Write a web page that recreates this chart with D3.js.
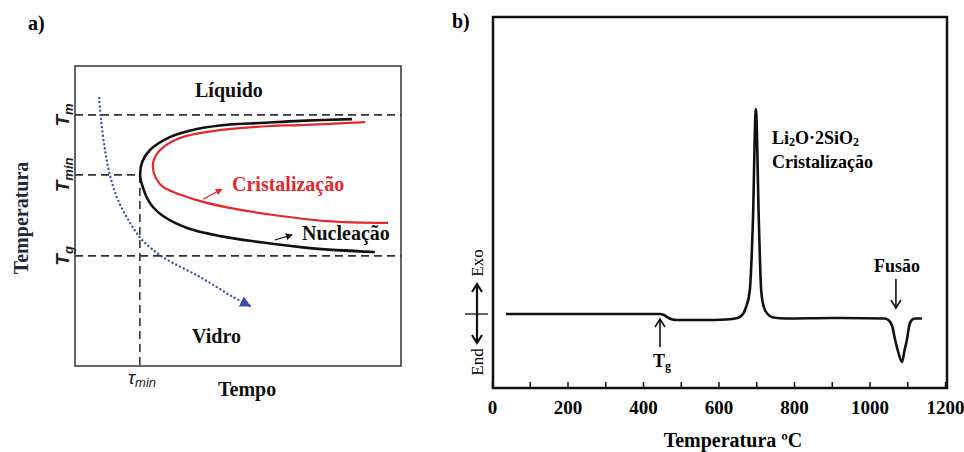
<!DOCTYPE html>
<html>
<head>
<meta charset="utf-8">
<script src="https://cdn.jsdelivr.net/npm/d3@7"></script>
<style>
  body { margin: 0; background: #fff; }
  svg { display: block; }
</style>
</head>
<body>
<div id="chart"></div>
<script>
// ---- panel a: TTT diagram, arbitrary units (tempo 0-10, temperatura 0-10)
const nucleationCurve = [
    [8.50, 8.23], [6.90, 8.17], [5.67, 8.10], [4.75, 8.05], [3.74, 7.90], [2.91, 7.63],
    [2.30, 7.20], [2.06, 6.80], [2.00, 6.33], [2.09, 5.93], [2.21, 5.60], [2.39, 5.30],
    [2.70, 5.00], [3.44, 4.60], [4.45, 4.33], [5.67, 4.13], [7.21, 3.93], [9.20, 3.80]
];
const crystalCurve = [
    [8.90, 8.13], [6.90, 8.03], [5.98, 8.00], [4.23, 7.83], [3.22, 7.60], [2.61, 7.20],
    [2.42, 6.87], [2.39, 6.60], [2.48, 6.27], [2.70, 5.97], [3.74, 5.53], [4.75, 5.27],
    [5.98, 5.05], [7.73, 4.83], [9.60, 4.77]
];
const coolingPath = [
    [0.74, 8.93], [0.80, 8.20], [0.92, 7.20], [1.07, 6.37], [1.32, 5.53], [1.69, 4.77],
    [2.06, 4.20], [2.70, 3.63], [3.83, 2.97], [4.85, 2.30], [5.37, 2.00]
];
const tempM = 8.37, tempMin = 6.37, tempG = 3.67;
const tauMin = 1.99;

// ---- panel b: DSC Li2O·2SiO2
const dscTemp = [
    37, 200, 445, 452, 460, 468, 478, 490, 560, 620, 650, 665, 673, 683, 691, 699,
    707, 713, 720, 730, 745, 780, 900, 1040, 1050, 1060, 1068, 1076, 1086, 1093,
    1099, 1105, 1112, 1120, 1139
];
const dscSignal = [
    0, 0, 0, -0.05, -0.2, -0.4, -0.55, -0.6, -0.6, -0.55, -0.4, 0, 0.7, 2.4, 9.1, 20.5,
    9.1, 2.4, 0.7, 0, -0.35, -0.45, -0.4, -0.45, -0.6, -1.2, -2.6, -3.8, -4.8, -3.6,
    -2.6, -1.2, -0.6, -0.45, -0.45
];
const xTicks = [0, 100, 200, 300, 400, 500, 600, 700, 800, 900, 1000, 1100, 1200];
const xLabels = [0, 200, 400, 600, 800, 1000, 1200];
const tgTemp = 445, fusionTemp = 1070;

const serif = "'Liberation Serif', 'Times New Roman', serif";
const sans = "'Liberation Sans', Arial, sans-serif";
const red = "#e5262b", blue = "#3a4fa6";

const svg = d3.select("#chart")
    .append("svg")
    .attr("width", 964)
    .attr("height", 452)
    .style("font-family", serif);

const defs = svg.append("defs");
defs.append("marker")
    .attr("id", "blueHead")
    .attr("viewBox", "0 0 10 10")
    .attr("refX", 9).attr("refY", 5)
    .attr("markerUnits", "userSpaceOnUse")
    .attr("markerWidth", 11).attr("markerHeight", 11)
    .attr("orient", "auto")
    .append("path").attr("d", "M0,0L10,5L0,10Z").attr("fill", blue);
[["redHead", red], ["blackHead", "#111"]].forEach(([id, c]) => {
    defs.append("marker")
        .attr("id", id)
        .attr("viewBox", "0 0 10 10")
        .attr("refX", 9).attr("refY", 5)
        .attr("markerUnits", "userSpaceOnUse")
        .attr("markerWidth", 7).attr("markerHeight", 7)
        .attr("orient", "auto")
        .append("path").attr("d", "M0,0L10,5L0,10Z").attr("fill", c);
});

// ================= panel a =================
const xa = d3.scaleLinear().domain([0, 10]).range([75, 401]);
const ya = d3.scaleLinear().domain([0, 10]).range([366, 66]);
const ga = svg.append("g");

ga.append("text").attr("x", 28).attr("y", 30)
    .attr("font-size", 20).attr("font-weight", "bold").text("a)");

ga.append("rect")
    .attr("x", xa(0)).attr("y", ya(10))
    .attr("width", xa(10) - xa(0)).attr("height", ya(0) - ya(10))
    .attr("fill", "none").attr("stroke", "#333").attr("stroke-width", 1.5);

const dashed = (x1, y1, x2, y2) => ga.append("line")
    .attr("x1", xa(x1)).attr("y1", ya(y1)).attr("x2", xa(x2)).attr("y2", ya(y2))
    .attr("stroke", "#333").attr("stroke-width", 1.6).attr("stroke-dasharray", "8,5");
dashed(0, tempM, 10, tempM);
dashed(0, tempMin, tauMin, tempMin);
dashed(tauMin, tempMin, tauMin, 0);
dashed(0, tempG, 10, tempG);

const lineA = d3.line()
    .x(d => xa(d[0]))
    .y(d => ya(d[1]))
    .curve(d3.curveCatmullRom.alpha(0.5));

ga.append("path").attr("d", lineA(nucleationCurve))
    .attr("fill", "none").attr("stroke", "#111").attr("stroke-width", 2.6);
ga.append("path").attr("d", lineA(crystalCurve))
    .attr("fill", "none").attr("stroke", red).attr("stroke-width", 2.2);
ga.append("path").attr("d", lineA(coolingPath))
    .attr("fill", "none").attr("stroke", blue).attr("stroke-width", 2.4)
    .attr("stroke-linecap", "round").attr("stroke-dasharray", "0,4.2")
    .attr("marker-end", "url(#blueHead)");

// little pointer arrows
ga.append("line")
    .attr("x1", xa(3.93)).attr("y1", ya(5.56)).attr("x2", xa(4.51)).attr("y2", ya(5.90))
    .attr("stroke", red).attr("stroke-width", 1.2).attr("marker-end", "url(#redHead)");
ga.append("line")
    .attr("x1", xa(6.13)).attr("y1", ya(4.20)).attr("x2", xa(6.66)).attr("y2", ya(4.37))
    .attr("stroke", "#111").attr("stroke-width", 1.2).attr("marker-end", "url(#blackHead)");

const boldText = (x, y, s, color) => ga.append("text")
    .attr("x", x).attr("y", y).attr("font-size", 20).attr("font-weight", "bold")
    .attr("fill", color || "#111").text(s);
boldText(195, 97, "Líquido");
boldText(232, 191, "Cristalização", red);
boldText(302, 240, "Nucleação");
boldText(192, 343, "Vidro");
boldText(218, 396, "Tempo");

ga.append("text")
    .attr("transform", "translate(28,218) rotate(-90)")
    .attr("text-anchor", "middle")
    .attr("font-size", 20).attr("font-weight", "bold").attr("fill", "#1c2841")
    .text("Temperatura");

// rotated T labels on the left of the frame
[[tempM, "m"], [tempMin, "min"], [tempG, "g"]].forEach(([v, sub]) => {
    const t = ga.append("text")
        .attr("transform", `translate(69,${ya(v)}) rotate(-90)`)
        .attr("text-anchor", "middle")
        .attr("font-family", sans).attr("font-style", "italic").attr("font-weight", "bold")
        .attr("font-size", 19).attr("fill", "#222");
    t.append("tspan").text("T");
    t.append("tspan").attr("font-size", 13).attr("dy", 4).text(sub);
});

const tau = ga.append("text")
    .attr("x", 128).attr("y", 384)
    .attr("font-family", sans).attr("font-style", "italic").attr("fill", "#222");
tau.append("tspan").attr("font-size", 19).text("τ");
tau.append("tspan").attr("font-size", 13).attr("dy", 3).text("min");

// ================= panel b =================
const xb = d3.scaleLinear().domain([0, 1200]).range([492, 945]);
const yb = d3.scaleLinear().domain([-7.4, 29.7]).range([388, 17]);
const gb = svg.append("g");

gb.append("text").attr("x", 452).attr("y", 28)
    .attr("font-size", 20).attr("font-weight", "bold").text("b)");

gb.append("g")
    .attr("transform", `translate(0,${yb(-7.4)})`)
    .call(d3.axisBottom(xb).tickValues(xTicks).tickSizeInner(-6).tickSizeOuter(0).tickPadding(13)
        .tickFormat(d => xLabels.includes(d) ? d : ""))
    .call(g => g.select(".domain").remove())
    .call(g => g.selectAll("line").attr("stroke", "#111").attr("stroke-width", 1.5))
    .attr("font-family", serif).attr("font-size", 19).attr("font-weight", "bold");

gb.append("rect")
    .attr("x", 493).attr("y", yb(29.7))
    .attr("width", 947 - 493).attr("height", yb(-7.4) - yb(29.7))
    .attr("fill", "none").attr("stroke", "#111").attr("stroke-width", 2.5);

const lineB = d3.line()
    .x((d, i) => xb(dscTemp[i]))
    .y(d => yb(d))
    .curve(d3.curveMonotoneX);
gb.append("path").attr("d", lineB(dscSignal))
    .attr("fill", "none").attr("stroke", "#111").attr("stroke-width", 2.6)
    .attr("stroke-linejoin", "round");

// arrows: shaft + chevron head
const arrow = (x, yFrom, yTo, w, sw) => {
    const dir = yTo < yFrom ? 1 : -1;
    gb.append("path")
        .attr("d", `M${x},${yFrom}L${x},${yTo}M${x - w},${yTo + dir * w * 1.6}L${x},${yTo}L${x + w},${yTo + dir * w * 1.6}`)
        .attr("fill", "none").attr("stroke", "#111").attr("stroke-width", sw);
};
arrow(xb(tgTemp), 347, 319, 5, 1.6);
arrow(xb(fusionTemp), 279, 308, 5, 1.6);

const tg = gb.append("text").attr("x", 653).attr("y", 367)
    .attr("font-size", 18).attr("font-weight", "bold");
tg.append("tspan").text("T");
tg.append("tspan").attr("font-size", 12).attr("dy", 3).text("g");

gb.append("text").attr("x", 897).attr("y", 272).attr("text-anchor", "middle")
    .attr("font-size", 18).attr("font-weight", "bold").text("Fusão");

const li = gb.append("text").attr("x", 772).attr("y", 144)
    .attr("font-size", 18).attr("font-weight", "bold");
li.append("tspan").text("Li");
li.append("tspan").attr("font-size", 12).attr("dy", 2).text("2");
li.append("tspan").attr("dy", -2).text("O·2SiO");
li.append("tspan").attr("font-size", 12).attr("dy", 2).text("2");
gb.append("text").attr("x", 772).attr("y", 168)
    .attr("font-size", 18).attr("font-weight", "bold").text("Cristalização");

// Exo / End indicator
gb.append("path").attr("d", "M465,314L488,314").attr("stroke", "#111").attr("stroke-width", 1.3);
arrow(477, 314, 284, 5, 2.2);
arrow(477, 314, 343, 5, 2.2);
gb.append("text").attr("transform", "translate(483,263) rotate(-90)")
    .attr("text-anchor", "middle").attr("font-size", 17).text("Exo");
gb.append("text").attr("transform", "translate(483,362) rotate(-90)")
    .attr("text-anchor", "middle").attr("font-size", 17).text("End");

gb.append("text").attr("x", 733).attr("y", 447).attr("text-anchor", "middle")
    .attr("font-size", 20).attr("font-weight", "bold").text("Temperatura ºC");
</script>
</body>
</html>
